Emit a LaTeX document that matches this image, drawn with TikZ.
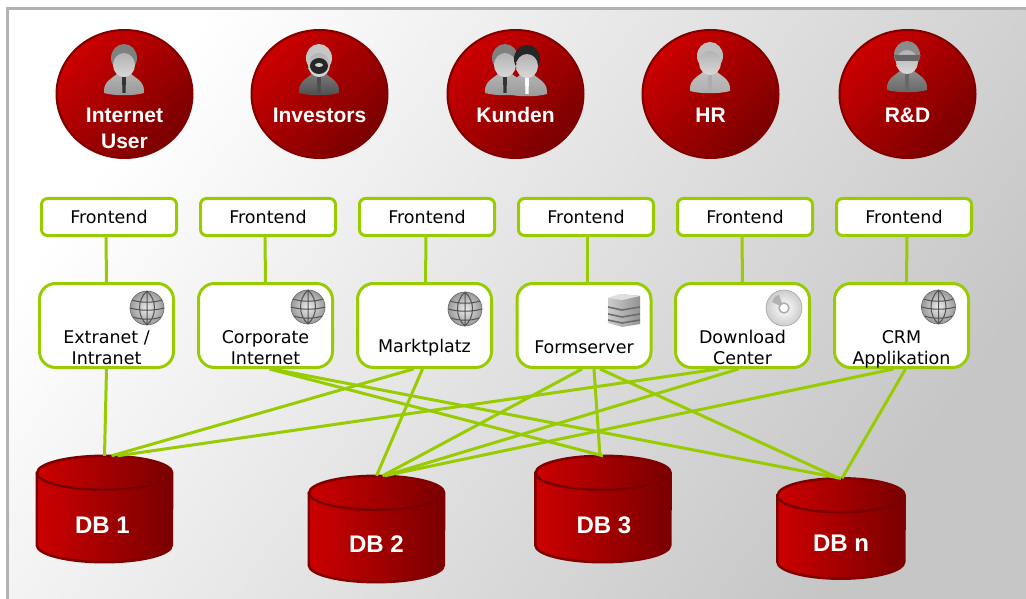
\documentclass[tikz,border=0pt]{standalone}
\usepackage{fontspec}
\setmainfont{DejaVu Sans}
\newfontfamily\boldfont[BoldFont={Liberation Sans Bold}]{Liberation Sans}
\usetikzlibrary{positioning,shapes}
\definecolor{lime}{HTML}{99CC00}
\definecolor{redhi}{HTML}{CC0000}
\definecolor{redlo}{HTML}{7A0000}
\definecolor{redline}{HTML}{800000}
\tikzstyle{U} = [ellipse,
			draw=redline, line width=2pt,
			top color=redhi, bottom color=redlo, shading angle=45,
			minimum width=136pt, minimum height=128pt, inner sep=0pt]
\tikzstyle{F} = [rectangle,
			draw=lime, line width=3pt, fill=white,
			rounded corners=6pt, minimum width=135pt, minimum height=37pt,
			font=\fontsize{17.5}{21}\selectfont]
\tikzstyle{A} = [rectangle,
			draw=lime, line width=3pt, fill=white,
			rounded corners=16pt, minimum width=134pt, minimum height=84pt]
\tikzstyle{T} = [align=center, inner sep=0pt,
			font=\fontsize{17.5}{21}\selectfont]
\tikzstyle{N} = [align=center, inner sep=0pt, text=white,
			font=\boldfont\bfseries\fontsize{21}{26}\selectfont]
\tikzstyle{D} = [rectangle, inner sep=0pt,
			minimum width=135pt, minimum height=106pt]
\tikzstyle{B} = [align=center, inner sep=0pt, text=white,
			font=\boldfont\bfseries\fontsize{24}{26}\selectfont]
\tikzstyle{L} = [draw=lime, line width=3pt]
\newcommand{\dbdrum}[2]{
	\path[left color=redhi, right color=redlo, draw=redline, line width=2.5pt]
		([yshift=-17pt]#1.north west) -- ([yshift=17pt]#1.south west)
		arc [start angle=180, end angle=360, x radius=#2pt, y radius=17pt]
		-- ([yshift=-17pt]#1.north east)
		arc [start angle=0, end angle=180, x radius=#2pt, y radius=17pt] -- cycle;
	\draw[redlo, line width=2.5pt] ([yshift=-17pt]#1.north west)
		arc [start angle=180, end angle=360, x radius=#2pt, y radius=17pt];
}
\tikzset{
	pics/man/.style n args={3}{code={
		\path[top color=#2!75!white, bottom color=#2]
			(-20,31) .. controls (-21,20) and (-13,17) .. (-7,12) -- (7,12)
			.. controls (13,17) and (21,20) .. (20,31)
			.. controls (10,34) and (-10,34) .. cycle;
		\fill[#3] (-2,15) -- (2,15) -- (1.5,31) -- (-1.5,31) -- cycle;
		\fill[#1] (0,-4) ellipse (13 and 14);
		\path[top color=gray!60!white, bottom color=gray!30!white] (0,3) ellipse (11 and 12);
	}},
	pics/globe/.style={code={
		\path[inner color=gray!15, outer color=gray!80, draw=gray!80!black, line width=.6pt]
			(0,0) circle (17);
		\draw[gray!65!black, line width=1pt] (0,-17) .. controls (-10,-8) and (-10,8) .. (0,17)
			(0,-17) .. controls (10,-8) and (10,8) .. (0,17)
			(0,-17) -- (0,17)
			(-15,-8) .. controls (-6,-5) and (6,-5) .. (15,-8)
			(-17,0) .. controls (-6,3) and (6,3) .. (17,0)
			(-14,9) .. controls (-6,12) and (6,12) .. (14,9);
	}},
	pics/disc/.style={code={
		\path[inner color=white, outer color=gray!40, draw=gray!70, line width=.6pt]
			(0,0) circle (18);
		\path[fill=gray!60] (-12,-6) -- (-4,-2) -- (-2,-5) -- (-5,-13) .. controls (-9,-12) .. cycle;
		\path[fill=white, draw=gray!65, line width=1.5pt] (0,0) circle (5);
	}},
	pics/server/.style={code={
		\path[left color=gray!40, right color=gray!85] (-16,-12) -- (-3,-16) -- (16,-14) -- (16,14) -- (-2,17) -- (-16,13) -- cycle;
		\fill[gray!25] (-16,-12) -- (-3,-16) -- (16,-14) -- (-2,-10) -- cycle;
		\draw[gray!85!black, line width=1.6pt] (-16,-3) -- (-2,0) -- (16,-3)
			(-16,4) -- (-2,7) -- (16,4)
			(-16,10) -- (-2,13) -- (16,10);
	}}
}

\begin{document}
\begin{tikzpicture}[x=1pt, y=-1pt, on grid]

\path[use as bounding box, fill=white] (0,0) rectangle (1026,599);
\path[top color=white, bottom color=gray!45, shading angle=55] (8,9) rectangle (1026,599);
\draw[gray!60, line width=3pt] (7.5,599) -- (7.5,8.5) -- (1026,8.5);

\node [U] at (124.5,94)
(usr1)
	{};

\node [U, right of =usr1, node distance =195pt]
(usr2)
	{};

\node [U, right of =usr2, node distance =196pt]
(usr3)
	{};

\node [U, right of =usr3, node distance =195pt]
(usr4)
	{};

\node [U, right of =usr4, node distance =197pt]
(usr5)
	{};

\node [N, below of =usr1, node distance =34pt]
(txtusr1)
	{Internet\\User};

\node [N, below of =usr2, node distance =21pt]
(txtusr2)
	{Investors};

\node [N, below of =usr3, node distance =21pt]
(txtusr3)
	{Kunden};

\node [N, below of =usr4, node distance =21pt]
(txtusr4)
	{HR};

\node [N, below of =usr5, node distance =21pt]
(txtusr5)
	{R\&D};

\pic at (124,62) {man={gray}{gray!80!white}{black!80!white}};
\pic at (319,62) {man={gray!45}{gray!60!black}{gray!60!black}};
\fill[black!85] (319,66) ellipse (9 and 8);
\fill[gray!35] (319,65) ellipse (4 and 2);
\pic at (505,62) {man={gray}{gray!80!white}{black!80!white}};
\pic at (527,63) {man={black!85}{gray!80!white}{white}};
\pic at (710,60) {man={gray!50}{gray!65!white}{gray!65!white}};
\pic at (907,59) {man={gray!90}{gray!80!black}{gray!80!black}};
\fill[black!60] (894,55) -- (921,55) -- (918,61) -- (896,61) -- cycle;

\node [F] at (109,217)
(fe1)
	{Frontend};

\node [F, right of =fe1, node distance =159pt]
(fe2)
	{Frontend};

\node [F, right of =fe2, node distance =159pt]
(fe3)
	{Frontend};

\node [F, right of =fe3, node distance =159pt]
(fe4)
	{Frontend};

\node [F, right of =fe4, node distance =159pt]
(fe5)
	{Frontend};

\node [F, right of =fe5, node distance =159pt]
(fe6)
	{Frontend};

\node [A] at (106.5,325.5)
(app1)
	{};

\node [A, right of =app1, node distance =159pt]
(app2)
	{};

\node [A, right of =app2, node distance =159pt]
(app3)
	{};

\node [A, right of =app3, node distance =159.5pt]
(app4)
	{};

\node [A, right of =app4, node distance =158.5pt]
(app5)
	{};

\node [A, right of =app5, node distance =159pt]
(app6)
	{};

\node [T, below of =app1, node distance =22pt]
(txt1)
	{Extranet /\\Intranet};

\node [T, below of =app2, node distance =22pt]
(txt2)
	{Corporate\\Internet};

\node [T, below of =app3, node distance =22pt]
(txt3)
	{Marktplatz};

\node [T, below of =app4, node distance =22pt]
(txt4)
	{Formserver};

\node [T, below of =app5, node distance =22pt]
(txt5)
	{Download\\Center};

\node [T, below of =app6, node distance =24pt]
(txt6)
	{CRM\\Applikation};

\pic at (147,308) {globe};
\pic at (308,307) {globe};
\pic at (465,309) {globe};
\pic at (624,310) {server};
\pic at (784,308) {disc};
\pic at (938.5,307) {globe};

\node [D] at (104.5,509)
(db1)
	{};
\dbdrum{db1}{67.5}

\node [D] at (376.5,529)
(db2)
	{};
\dbdrum{db2}{67.5}

\node [D] at (603,509)
(db3)
	{};
\dbdrum{db3}{67.5}

\node [D, minimum width=127pt, minimum height=100pt] at (841,528.5)
(dbn)
	{};
\dbdrum{dbn}{63.5}

\node [B, below of =db1, node distance =16pt, xshift=-2pt]
(txtdb1)
	{DB 1};

\node [B, below of =db2, node distance =15pt]
(txtdb2)
	{DB 2};

\node [B, below of =db3, node distance =16pt, xshift=1pt]
(txtdb3)
	{DB 3};

\node [B, below of =dbn, node distance =15pt]
(txtdbn)
	{DB n};

\path[L] ([xshift=-3pt]fe1.south) -- (app1.north);

\path[L] ([xshift=-3pt]fe2.south) -- (app2.north);

\path[L] ([xshift=-1pt]fe3.south) -- ([xshift=1pt]app3.north);

\path[L] ([xshift=1pt]fe4.south) -- ([xshift=3pt]app4.north);

\path[L] ([xshift=-3pt]fe5.south) -- (app5.north);

\path[L] ([xshift=3pt]fe6.south) -- ([xshift=5pt]app6.north);

\path[L] (app1.south) -- (db1.north);

\path[L] ([xshift=4pt]app2.south) -- (db3.north);

\path[L] ([xshift=7pt]app2.south) -- (dbn.north);

\path[L] ([xshift=-11pt]app3.south) -- ([xshift=7pt]db1.north);

\path[L] ([xshift=-2pt]app3.south) -- (db2.north);

\path[L] ([xshift=-2pt]app4.south) -- ([xshift=6pt]db2.north);

\path[L] ([xshift=10pt]app4.south) -- ([xshift=-3pt]db3.north);

\path[L] ([xshift=16pt]app4.south) -- ([xshift=-2pt]dbn.north);

\path[L] ([xshift=-24pt]app5.south) -- ([xshift=13pt]db1.north);

\path[L] ([xshift=-4pt]app5.south) -- ([xshift=8pt]db2.north);

\path[L] ([xshift=-8pt]app6.south) -- ([xshift=8pt]db2.north);

\path[L] ([xshift=4pt]app6.south) -- ([xshift=1pt]dbn.north);

\end{tikzpicture}
\end{document}
